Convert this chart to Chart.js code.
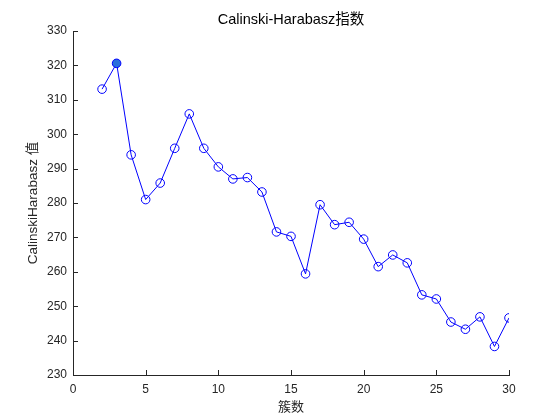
<!DOCTYPE html>
<html>
<head>
<meta charset="utf-8">
<script src="https://cdn.jsdelivr.net/npm/chart.js@4/dist/chart.umd.min.js"></script>
<style>
  html, body { margin: 0; padding: 0; background: #fff; }
  #wrap { width: 560px; height: 420px; }
</style>
</head>
<body>
<div id="wrap"><canvas id="chChart" width="560" height="420"></canvas></div>
<script>
// values
const clusterCounts = [2, 3, 4, 5, 6, 7, 8, 9, 10, 11, 12, 13, 14, 15, 16,
  17, 18, 19, 20, 21, 22, 23, 24, 25, 26, 27, 28, 29, 30];
const chScores = [313.1, 320.6, 294.0, 281.0, 285.8, 295.9, 305.9, 295.9, 290.5, 287.0,
  287.4, 283.2, 271.6, 270.3, 259.4, 279.5, 273.7, 274.4, 269.5, 261.5,
  264.9, 262.6, 253.3, 252.1, 245.4, 243.3, 246.9, 238.3, 246.6];
const xTicks = [0, 5, 10, 15, 20, 25, 30];
const yTicks = [230, 240, 250, 260, 270, 280, 290, 300, 310, 320, 330];

const LINE = "#0000ff";
const AXIS = "#262626";
const FONT = "'Liberation Sans', Arial, 'Noto Sans CJK SC', sans-serif";

const bestIdx = chScores.indexOf(Math.max(...chScores));
const pointFill = chScores.map((v, i) => (i === bestIdx ? "#2a6fdb" : "rgba(0,0,0,0)"));

// MATLAB-style tick marks drawn inside the axes
const innerTicks = {
  id: "innerTicks",
  afterDatasetsDraw(chart) {
    const { ctx, chartArea, scales } = chart;
    ctx.save();
    ctx.strokeStyle = AXIS;
    ctx.lineWidth = 1;
    ctx.beginPath();
    xTicks.forEach((t) => {
      const px = Math.round(scales.x.getPixelForValue(t)) + 0.5;
      ctx.moveTo(px, chartArea.bottom);
      ctx.lineTo(px, chartArea.bottom - 5);
    });
    yTicks.forEach((t) => {
      const py = Math.round(scales.y.getPixelForValue(t)) + 0.5;
      ctx.moveTo(chartArea.left, py);
      ctx.lineTo(chartArea.left + 5, py);
    });
    ctx.stroke();
    ctx.restore();
  },
};

new Chart(document.getElementById("chChart"), {
  type: "line",
  data: {
    datasets: [
      {
        label: "CalinskiHarabasz",
        data: clusterCounts.map((k, i) => ({ x: k, y: chScores[i] })),
        borderColor: LINE,
        borderWidth: 1,
        pointStyle: "circle",
        pointRadius: 4.3,
        pointBorderWidth: 1,
        pointBorderColor: LINE,
        pointBackgroundColor: pointFill,
        tension: 0,
        fill: false,
      },
    ],
  },
  options: {
    responsive: false,
    animation: false,
    layout: { padding: { left: 0, right: 51, top: 0, bottom: 0 } },
    plugins: {
      legend: { display: false },
      tooltip: { enabled: false },
      title: { display: false },
    },
    scales: {
      // empty top axis, only used so the title is centred over the plot box
      top: {
        type: "linear",
        position: "top",
        min: 0,
        max: 30,
        afterFit: (s) => { s.height = 31; },
        grid: { display: false },
        border: { display: false },
        ticks: { display: false },
        title: {
          display: true,
          text: "Calinski-Harabasz指数",
          color: "#000",
          font: { family: FONT, size: 14.5 },
          padding: { top: 11, bottom: 0 },
        },
      },
      x: {
        type: "linear",
        min: 0,
        max: 30,
        afterBuildTicks: (s) => { s.ticks = xTicks.map((v) => ({ value: v })); },
        afterFit: (s) => { s.height = 45; },
        grid: { display: true, drawOnChartArea: false, drawTicks: false },
        border: { display: true, color: AXIS, width: 1 },
        ticks: { color: AXIS, font: { family: FONT, size: 12 }, padding: 7, maxRotation: 0 },
        title: {
          display: true,
          text: "簇数",
          color: AXIS,
          font: { family: "'Noto Sans CJK SC', sans-serif", size: 13 },
          padding: { top: 0, bottom: 6 },
        },
      },
      y: {
        type: "linear",
        min: 230,
        max: 330,
        afterBuildTicks: (s) => { s.ticks = yTicks.map((v) => ({ value: v })); },
        afterFit: (s) => { s.width = 73; },
        grid: { display: true, drawOnChartArea: false, drawTicks: false },
        border: { display: true, color: AXIS, width: 1 },
        ticks: { color: AXIS, font: { family: FONT, size: 12 }, padding: 6 },
        title: {
          display: true,
          text: "CalinskiHarabasz 值",
          color: AXIS,
          font: { family: FONT, size: 13.5 },
          padding: { top: 25, bottom: 0 },
        },
      },
    },
  },
  plugins: [innerTicks],
});
</script>
</body>
</html>
